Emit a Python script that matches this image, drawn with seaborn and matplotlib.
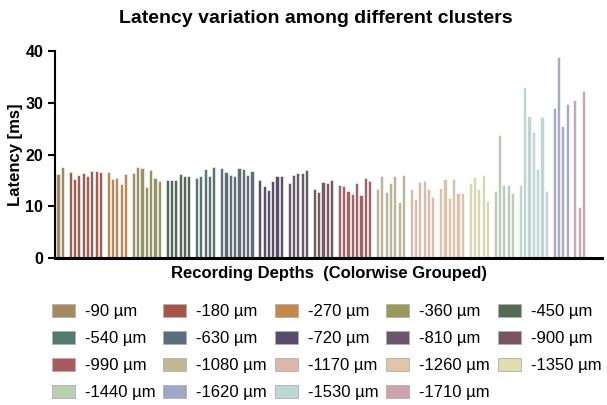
import matplotlib
matplotlib.use('Agg')
import matplotlib.pyplot as plt
import matplotlib.patches as mpatches
import seaborn as sns
import numpy as np
import pandas as pd

# recording depths (um) and latency per unit (ms), one array per cluster
depths = [-90, -180, -270, -360, -450, -540, -630, -720, -810, -900,
          -990, -1080, -1170, -1260, -1350, -1440, -1530, -1620, -1710]

lat_90 = [16.2, 17.6]
lat_180 = [16.6, 15.2, 16.0, 16.4, 15.9, 16.8, 16.8, 16.7]
lat_270 = [16.6, 15.3, 15.4, 14.3, 16.3]
lat_360 = [16.4, 17.6, 17.3, 13.8, 17.0, 15.4, 14.9]
lat_450 = [15.0, 15.1, 15.0, 16.2, 15.9, 15.9]
lat_540 = [15.4, 15.9, 17.2, 15.9, 17.6]
lat_630 = [17.3, 16.7, 16.0, 15.8, 17.4, 17.2, 16.1, 16.9]
lat_720 = [15.1, 13.9, 13.1, 14.8, 15.8, 15.8]
lat_810 = [14.4, 16.0, 16.4, 16.5, 17.0]
lat_900 = [13.4, 12.8, 14.6, 14.5, 15.0]
lat_990 = [14.1, 13.9, 13.0, 12.4, 14.5, 12.2, 15.4, 14.8]
lat_1080 = [13.4, 15.9, 12.7, 14.5, 15.9, 10.9, 16.1]
lat_1170 = [13.3, 11.4, 14.7, 14.8, 13.3, 11.7]
lat_1260 = [13.5, 15.2, 11.6, 15.2, 12.5, 12.5]
lat_1350 = [14.4, 15.7, 13.4, 16.1, 11.0]
lat_1440 = [12.9, 23.7, 14.2, 14.1, 12.5]
lat_1530 = [14.1, 33.1, 27.4, 24.4, 17.2, 27.2, 12.9]
lat_1620 = [29.0, 38.8, 25.5, 29.8]
lat_1710 = [30.5, 9.9, 32.3]

latency_groups = [lat_90, lat_180, lat_270, lat_360, lat_450, lat_540, lat_630,
                  lat_720, lat_810, lat_900, lat_990, lat_1080, lat_1170,
                  lat_1260, lat_1350, lat_1440, lat_1530, lat_1620, lat_1710]

colors = ['#a68a5f', '#a65646', '#c6884a', '#9a9a5e', '#526b55', '#557a72',
          '#5a6e7e', '#574c6c', '#6a566a', '#7a5560', '#a85a60', '#c0b893',
          '#ddb8a8', '#e2c4a6', '#e0ddae', '#b8cfb2', '#bdd8d3', '#a2a6c6',
          '#cfa2b0']

# legend order as in the original figure
legend_order = [-90, -180, -270, -360, -450, -540, -630, -720, -810, -900,
                -990, -1080, -1170, -1260, -1350, -1440, -1620, -1530, -1710]

labels = [f'{d} \u00b5m' for d in depths]

# build long table, leaving a small gap between clusters
gap = 0.8
rows = []
i = 0
for g, vals in enumerate(latency_groups):
    for v in vals:
        rows.append({'pos': i + g * gap, 'latency': v, 'depth': labels[g]})
        i += 1
df = pd.DataFrame(rows)

sns.set_style('ticks', rc={'axes.edgecolor': 'black', 'text.color': 'black',
                           'axes.labelcolor': 'black', 'xtick.color': 'black',
                           'ytick.color': 'black'})
plt.rcParams['font.family'] = ['Liberation Sans', 'DejaVu Sans']

fig = plt.figure(figsize=(6.07, 4.05), dpi=100)
ax = fig.add_axes([0.0906, 0.363, 0.9014, 0.511])

sns.barplot(data=df, x='pos', y='latency', hue='depth', hue_order=labels,
            palette=colors, native_scale=True, dodge=False, width=0.72,
            edgecolor='white', linewidth=0.4, legend=False, ax=ax)

ax.set_xlim(df['pos'].min() - 0.7, df['pos'].max() + 4.3)
ax.set_ylim(0, 40)
ax.set_yticks([0, 10, 20, 30, 40])
ax.set_xticks([])
sns.despine(ax=ax)
ax.spines['left'].set_linewidth(1.5)
ax.spines['bottom'].set_linewidth(2.2)
ax.tick_params(axis='y', width=1.5, length=5, labelsize=11.5)
for t in ax.get_yticklabels():
    t.set_fontweight('bold')

ax.set_xlabel('Recording Depths  (Colorwise Grouped)', fontsize=12,
              fontweight='bold', labelpad=6)
ax.set_ylabel('Latency [ms]', fontsize=12, fontweight='bold', labelpad=2)
fig.text(0.52, 0.955, 'Latency variation among different clusters',
         ha='center', va='center', fontsize=14, fontweight='bold')

# legend handles laid out row-wise over five columns
ncol = 5
handles = {d: mpatches.Patch(facecolor=colors[k], edgecolor='#b0b0b0',
                             linewidth=0.6, label=labels[k])
           for k, d in enumerate(depths)}
ordered = [handles[d] for d in legend_order]
cols = [ordered[c::ncol] for c in range(ncol)]
flat = [h for col in cols for h in col]
fig.legend(handles=flat, ncol=ncol, loc='upper left',
           bbox_to_anchor=(0.085, 0.25), frameon=False, fontsize=12,
           handlelength=1.4, handleheight=0.85, handletextpad=0.6,
           columnspacing=0.45, labelspacing=0.7, borderpad=0,
           borderaxespad=0)

fig.savefig('out.png', dpi=100)
